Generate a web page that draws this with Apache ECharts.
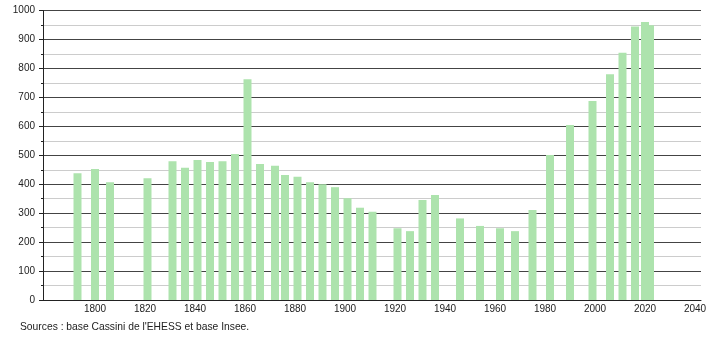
<!DOCTYPE html>
<html>
<head>
<meta charset="utf-8">
<script src="https://cdn.jsdelivr.net/npm/echarts@6/dist/echarts.min.js"></script>
<style>html,body{margin:0;padding:0;background:#fff}#c{width:710px;height:340px}</style>
</head>
<body>
<div id="c"></div>
<script>
var years = [1793,1800,1806,1821,1831,1836,1841,1846,1851,1856,1861,1866,1872,1876,1881,1886,1891,1896,1901,1906,1911,1921,1926,1931,1936,1946,1954,1962,1968,1975,1982,1990,1999,2006,2011,2016,2020,2022];
var population = [438,453,407,421,480,457,484,477,480,505,763,470,464,432,426,407,400,390,352,319,305,248,238,346,363,282,256,248,238,311,501,605,688,780,855,945,961,950];
var xTickLabels = [1800,1820,1840,1860,1880,1900,1920,1940,1960,1980,2000,2020,2040];
var yTickLabels = [0,100,200,300,400,500,600,700,800,900,1000];
var sourceText = "Sources : base Cassini de l'EHESS et base Insee.";

var chart = echarts.init(document.getElementById('c'), null, {renderer:'canvas'});
var font = 'Liberation Sans, Arial, sans-serif';
function plain(v){ return String(v); }
chart.setOption({
  animation: false,
  grid: {left: 43, right: 9, top: 10.7, bottom: 40, outerBoundsMode: 'none'},
  xAxis: {
    type: 'value', min: 1779.2, max: 2042.4,
    axisLine: {show: true, lineStyle: {color: '#222', width: 1}},
    axisTick: {show: false},
    splitLine: {show: false},
    axisLabel: {customValues: xTickLabels, formatter: plain, color: '#222', fontSize: 10, fontFamily: font, margin: 4}
  },
  yAxis: {
    type: 'value', min: 0, max: 1000, interval: 100,
    axisLine: {show: true, lineStyle: {color: '#222', width: 1}},
    axisTick: {show: true, length: 4, lineStyle: {color: '#222'}},
    minorTick: {show: true, splitNumber: 2, length: 2, lineStyle: {color: '#222'}},
    splitLine: {show: true, lineStyle: {color: '#444', width: 1}},
    minorSplitLine: {show: true, lineStyle: {color: '#cccccc', width: 1}},
    axisLabel: {color: '#222', fontSize: 10, fontFamily: font, margin: 8,
      customValues: yTickLabels, formatter: plain}
  },
  series: [{
    type: 'bar',
    barWidth: 8,
    itemStyle: {color: '#ade3ad'},
    data: years.map(function(y, i){ return [y, population[i]]; })
  }],
  graphic: [{
    type: 'text', left: 20, top: 322,
    style: {text: sourceText, fill: '#222', font: '10.3px ' + font}
  }]
});
</script>
</body>
</html>
